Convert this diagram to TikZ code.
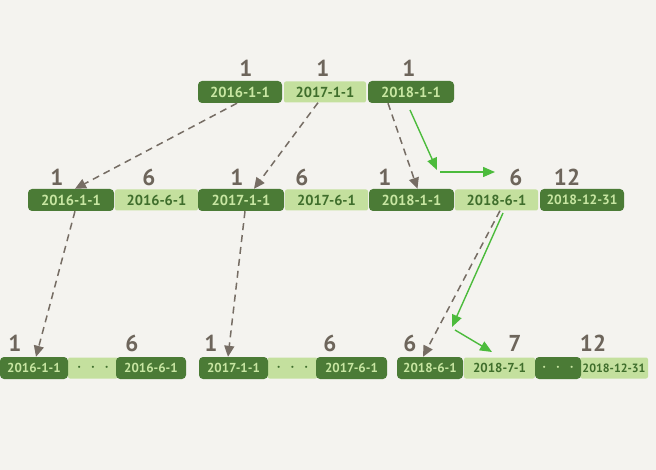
\documentclass[tikz,border=0pt]{standalone}
\usepackage{fontspec}
\setmainfont{PT Sans}
\usetikzlibrary{calc}
\usetikzlibrary{arrows.meta}

\definecolor{paper}{HTML}{F4F3EF}
\definecolor{darkleaf}{HTML}{4B7B36}
\definecolor{lightleaf}{HTML}{C4E09E}
\definecolor{darkink}{HTML}{C8E6A2}
\definecolor{lightink}{HTML}{3F6E2C}
\definecolor{countgray}{HTML}{6D655B}
\definecolor{ptrgray}{HTML}{766D64}
\definecolor{walkgreen}{HTML}{4CBB3C}

\newcommand{\gap}{\fontsize{20}{20}\selectfont$\cdot\,\cdot\,\cdot$}

\begin{document}
\begin{tikzpicture}[x=1pt,y=-1pt,
    darkkey/.style={fill=darkleaf, text=darkink, rounded corners=4pt, minimum height=22pt, inner sep=0pt, font=\fontsize{14.5}{16}\selectfont\bfseries},
    lightkey/.style={fill=lightleaf, text=lightink, rounded corners=2pt, minimum height=21pt, inner sep=0pt, font=\fontsize{14.5}{16}\selectfont\bfseries},
    leafkey/.style={font=\fontsize{13}{15}\selectfont\bfseries},
    count/.style={text=countgray, inner sep=0pt, font=\fontsize{23}{25}\selectfont\bfseries},
    ptr/.style={ptrgray, line width=1.5pt, dash pattern=on 7pt off 5pt, -{Triangle[length=11pt,width=10pt]}},
    walk/.style={walkgreen, line width=1.4pt, -{Triangle[length=12pt,width=10pt]}}]
\fill[paper] (0,0) rectangle (656,470);
\useasboundingbox (0,0) rectangle (656,470);

% root
\node[darkkey, minimum width=84pt] (t1) at (240,92) {2016-1-1};
\node[lightkey, minimum width=82pt] (t2) at (325,92) {2017-1-1};
\node[darkkey, minimum width=86pt] (t3) at (411,92) {2018-1-1};
\node[count] (t1n) at (246,68) {1};
\node[count] (t2n) at (323,68) {1};
\node[count] (t3n) at (409,68) {1};

% middle level
\node[lightkey, minimum width=83pt] (m2) at (156.5,200) {2016-6-1};
\node[darkkey, minimum width=86pt] (m1) at (71,200) {2016-1-1};
\node[lightkey, minimum width=83pt] (m4) at (326.5,200) {2017-6-1};
\node[darkkey, minimum width=86pt] (m3) at (241,200) {2017-1-1};
\node[lightkey, minimum width=83pt] (m6) at (496.5,200) {2018-6-1};
\node[darkkey, minimum width=85pt] (m5) at (411.5,200) {2018-1-1};
\node[darkkey, minimum width=84pt, font=\fontsize{13.5}{15}\selectfont\bfseries] (m7) at (582,200) {2018-12-31};
\node[count] (m1n) at (57,177) {1};
\node[count] (m2n) at (149,177) {6};
\node[count] (m3n) at (237,177) {1};
\node[count] (m4n) at (302,177) {6};
\node[count] (m5n) at (385,177) {1};
\node[count] (m6n) at (516,177) {6};
\node[count] (m7n) at (567,177) {12};

% leaves
\node[lightkey, minimum width=50pt] (b2) at (93,368) {\gap};
\node[darkkey, leafkey, minimum width=68pt] (b1) at (34,368) {2016-1-1};
\node[darkkey, leafkey, minimum width=70pt] (b3) at (151,368) {2016-6-1};
\node[lightkey, minimum width=50pt] (b5) at (292.5,368) {\gap};
\node[darkkey, leafkey, minimum width=69pt] (b4) at (233.5,368) {2017-1-1};
\node[darkkey, leafkey, minimum width=71pt] (b6) at (351.5,368) {2017-6-1};
\node[lightkey, leafkey, minimum width=71pt] (b8) at (499.5,368) {2018-7-1};
\node[darkkey, leafkey, minimum width=66pt] (b7) at (430,368) {2018-6-1};
\node[lightkey, leafkey, minimum width=68pt, font=\fontsize{12}{14}\selectfont\bfseries] (b10) at (614,368) {2018-12-31};
\node[darkkey, minimum width=46pt] (b9) at (558,368) {\gap};
\node[count] (b1n) at (15,343) {1};
\node[count] (b3n) at (132,343) {6};
\node[count] (b4n) at (211,343) {1};
\node[count] (b6n) at (330,343) {6};
\node[count] (b7n) at (410,343) {6};
\node[count] (b8n) at (515,343) {7};
\node[count] (b10n) at (593,343) {12};

% child pointers
\draw[ptr] ($(t1.south)+(-3,0)$) -- ($(m1.north)+(4,0)$);
\draw[ptr] ($(t2.south)+(-7,0)$) -- ($(m3.north)+(13,0)$);
\draw[ptr] ($(t3.south)+(-23,0)$) -- ($(m5.north)+(6,0)$);
\draw[ptr] ($(m1.south)+(4,0)$) -- ($(b1.north)+(2,0)$);
\draw[ptr] ($(m3.south)+(4,0)$) -- ($(b4.north)+(-5.5,0)$);
\draw[ptr] ($(m6.south)+(3.5,0)$) -- ($(b7.north)+(-7,0)$);

% search path
\coordinate (s1) at (410,110);
\coordinate (s2) at (437,170);
\coordinate (s3) at (440,172);
\coordinate (s4) at (495,172);
\coordinate (s5) at (503,213);
\coordinate (s6) at (452,327);
\coordinate (s7) at (455,330);
\coordinate (s8) at (492,352);
\draw[walk] (s1) -- (s2);
\draw[walk] (s3) -- (s4);
\draw[walk] (s5) -- (s6);
\draw[walk] (s7) -- (s8);
\end{tikzpicture}
\end{document}
